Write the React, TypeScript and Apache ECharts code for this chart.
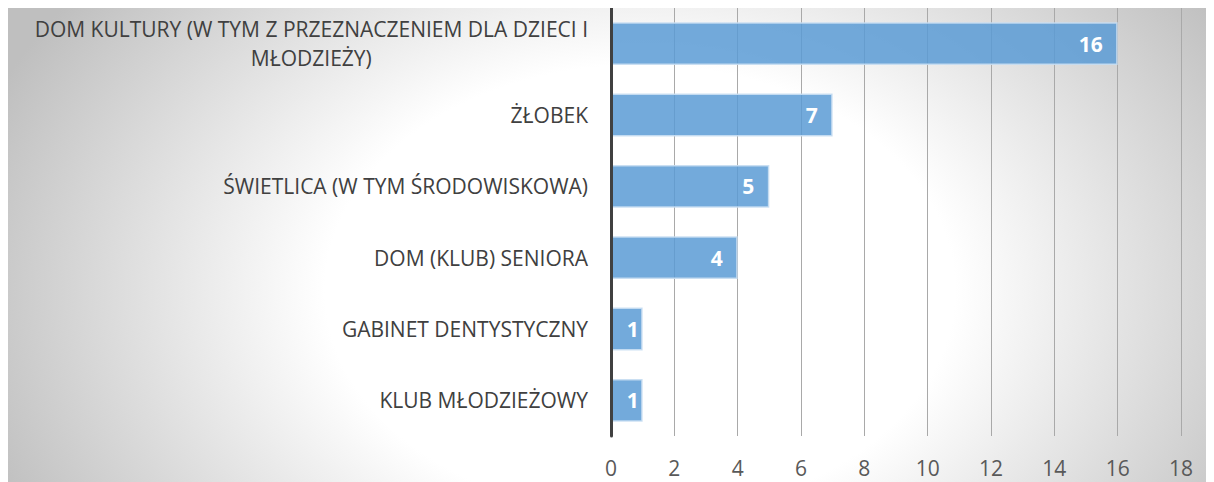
import React, { useEffect, useRef } from "react";
import * as echarts from "echarts";

const categories = [
  "DOM KULTURY (W TYM Z PRZEZNACZENIEM DLA DZIECI I\nMŁODZIEŻY)",
  "ŻŁOBEK",
  "ŚWIETLICA (W TYM ŚRODOWISKOWA)",
  "DOM (KLUB) SENIORA",
  "GABINET DENTYSTYCZNY",
  "KLUB MŁODZIEŻOWY",
];
const values = [16, 7, 5, 4, 1, 1];
const xTicks = { min: 0, max: 18, interval: 2 };

const FONT = "'Open Sans', sans-serif";

export default function App() {
  const ref = useRef<HTMLDivElement>(null);
  useEffect(() => {
    if (!ref.current) return;
    const chart = echarts.init(ref.current, undefined, { renderer: "svg" });
    chart.setOption({
      animation: false,
      grid: { left: 603, right: 33, top: 0, bottom: 46 },
      xAxis: {
        type: "value",
        min: xTicks.min,
        max: xTicks.max,
        interval: xTicks.interval,
        axisLine: { show: false },
        axisTick: { show: false },
        splitLine: { show: true, lineStyle: { color: "#a9a9a9", width: 1 } },
        axisLabel: { color: "#595959", fontSize: 21, fontFamily: FONT, margin: 21 },
      },
      yAxis: {
        type: "category",
        data: categories,
        inverse: true,
        z: 5,
        axisLine: { show: true, lineStyle: { color: "#404040", width: 3 } },
        axisTick: { show: false },
        axisLabel: {
          color: "#404040",
          fontSize: 21,
          fontFamily: FONT,
          margin: 23,
          lineHeight: 29,
          formatter: (v: string) =>
            v.indexOf("\n") >= 0
              ? v
                  .split("\n")
                  .map((l) => `{c|${l}}`)
                  .join("\n")
              : v,
          rich: {
            c: {
              align: "center",
              color: "#404040",
              fontSize: 21,
              fontFamily: FONT,
              lineHeight: 29,
            },
          },
        },
      },
      series: [
        {
          type: "bar",
          data: values.map((v) => (v < 2 ? { value: v, label: { distance: 4 } } : v)),
          barCategoryGap: "40%",
          itemStyle: {
            color: "rgba(91,155,213,0.85)",
            borderColor: "rgba(200,222,242,0.9)",
            borderWidth: 1.5,
          },
          label: {
            show: true,
            position: "insideRight",
            distance: 15,
            color: "#ffffff",
            fontWeight: "bold",
            fontSize: 21,
            fontFamily: FONT,
          },
        },
      ],
    });
    return () => chart.dispose();
  }, []);
  return (
    <div
      ref={ref}
      style={{
        width: 1206,
        height: 474,
        background:
          "radial-gradient(ellipse 700px 500px at 632px 282px, #ffffff 0%, #ffffff 45%, #bfbfbf 100%)",
      }}
    />
  );
}
